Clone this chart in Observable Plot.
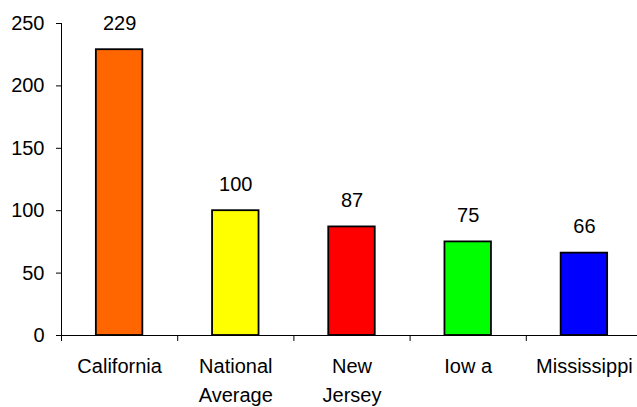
<!DOCTYPE html>
<html>
<head>
<meta charset="utf-8">
<script src="https://cdn.jsdelivr.net/npm/d3@7"></script>
<script src="https://cdn.jsdelivr.net/npm/@observablehq/plot@0.6"></script>
<style>
  html, body { margin: 0; padding: 0; background: #fff; }
  svg { display: block; }
</style>
</head>
<body>
<div id="chart"></div>
<script>
const categories = ["California", "National\nAverage", "New\nJersey", "Iow a", "Mississippi"];
const values = [229, 100, 87, 75, 66];
const colors = ["#FF6600", "#FFFF00", "#FF0000", "#00FF00", "#0000FF"];
const yTicks = [0, 50, 100, 150, 200, 250];

const data = categories.map((c, i) => ({category: c, value: values[i], color: colors[i], i}));

const chart = Plot.plot({
  width: 637,
  height: 407,
  marginLeft: 61,
  marginRight: 0,
  marginTop: 23,
  marginBottom: 72,
  style: {fontFamily: "'Liberation Sans', Arial, sans-serif", fontSize: "20px", color: "#000", background: "#fff"},
  x: {domain: [0, categories.length], range: [61, 642]},
  y: {domain: [0, 250]},
  marks: [
    Plot.rectY(data, {
      x1: d => d.i + 0.3,
      x2: d => d.i + 0.7,
      y1: 0,
      y2: "value",
      fill: d => d.color,
      stroke: "#000",
      strokeWidth: 1.8
    }),
    Plot.text(data, {
      x: d => d.i + 0.5,
      y: "value",
      text: d => String(d.value),
      lineAnchor: "bottom",
      dy: -20,
      fontSize: 20,
      fill: "#000"
    }),
    Plot.text(data, {
      x: d => d.i + 0.5,
      y: 0,
      text: "category",
      lineAnchor: "top",
      dy: 17,
      lineHeight: 1.45,
      fontSize: 20,
      fill: "#000"
    }),
    Plot.axisY({
      ticks: yTicks,
      tickSize: 5,
      tickPadding: 12,
      fontSize: 20,
      label: null,
      stroke: "#000"
    }),
    Plot.axisX({
      ticks: d3.range(0, categories.length),
      tickSize: 6,
      tickFormat: () => "",
      label: null,
      stroke: "#000"
    }),
    Plot.ruleX([0], {y1: 0, y2: 250, stroke: "#000", strokeWidth: 1}),
    Plot.ruleY([0], {stroke: "#000", strokeWidth: 1})
  ]
});
document.getElementById("chart").appendChild(chart);
</script>
</body>
</html>
